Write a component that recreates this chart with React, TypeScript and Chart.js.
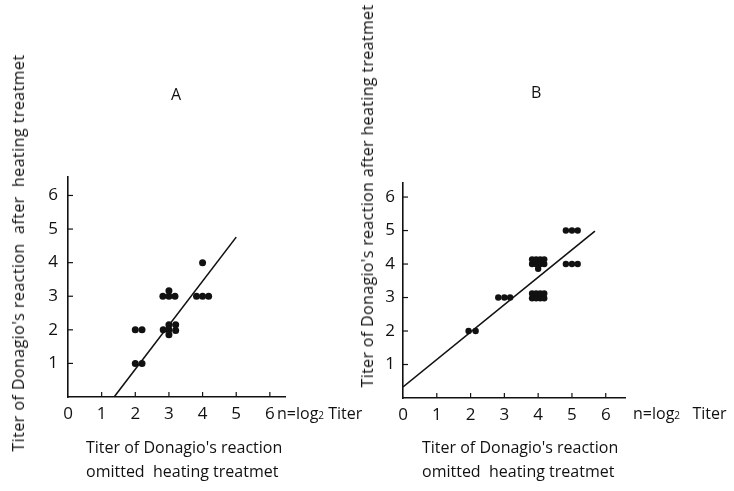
import React, { useEffect, useRef } from "react";
import { Chart, registerables } from "chart.js";

Chart.register(...registerables);

// ---------- data ----------
const xTickValues = [0, 1, 2, 3, 4, 5, 6];
const yTickValues = [0, 1, 2, 3, 4, 5, 6];

// Panel A: titre omitted heating (x) vs after heating (y)
const pointsAX = [2.0, 2.2, 2.0, 2.2, 2.83, 3.0, 3.2, 3.0, 3.2, 3.0, 2.82, 3.0, 3.18, 3.0, 3.82, 4.0, 4.18, 4.0];
const pointsAY = [1, 1, 2, 2, 2.0, 2.0, 1.98, 2.15, 2.15, 1.85, 3, 3, 3, 3.16, 3, 3, 3, 4.0];
const lineAX = [1.37, 5.0];
const lineAY = [0, 4.76];

// Panel B
const pointsBX = [
  1.94, 2.15,
  2.82, 3.0, 3.17,
  3.82, 3.94, 4.06, 4.18, 3.82, 3.94, 4.06, 4.18,
  3.82, 3.94, 4.06, 4.18, 3.82, 3.94, 4.06, 4.18, 4.0,
  4.82, 5.0, 5.17,
  4.82, 5.0, 5.17,
];
const pointsBY = [
  2, 2,
  3, 3, 3,
  2.98, 2.98, 2.98, 2.98, 3.12, 3.12, 3.12, 3.12,
  4.0, 4.0, 4.0, 4.0, 4.14, 4.14, 4.14, 4.14, 3.86,
  5, 5, 5,
  4, 4, 4,
];
const lineBX = [0, 5.68];
const lineBY = [0.33, 4.98];

const FONT = "'Open Sans', 'DejaVu Sans', sans-serif";
const INK = "#111111";

const zip = (xs: number[], ys: number[]) => xs.map((x, i) => ({ x, y: ys[i] }));

const inwardTicks = {
  id: "inwardTicks",
  afterDatasetsDraw(chart: any) {
    const { ctx, scales } = chart;
    const x = scales.x;
    const y = scales.y;
    ctx.save();
    ctx.strokeStyle = INK;
    ctx.lineWidth = 1.2;
    x.ticks.forEach((t: any) => {
      if (t.value === 0) return;
      const px = x.getPixelForValue(t.value);
      ctx.beginPath();
      ctx.moveTo(px, y.bottom);
      ctx.lineTo(px, y.bottom - 5);
      ctx.stroke();
    });
    y.ticks.forEach((t: any) => {
      if (t.value === 0) return;
      const py = y.getPixelForValue(t.value);
      ctx.beginPath();
      ctx.moveTo(x.left, py);
      ctx.lineTo(x.left + 5, py);
      ctx.stroke();
    });
    ctx.restore();
  },
};

type PanelCfg = {
  px: number[];
  py: number[];
  lx: number[];
  ly: number[];
  xMax: number;
  yMax: number;
  padding: { left: number; right: number; top: number; bottom: number };
  yLabelPad: number;
  radius: number;
};

function makeChart(canvas: HTMLCanvasElement, cfg: PanelCfg) {
  return new Chart(canvas, {
    type: "scatter",
    data: {
      datasets: [
        {
          type: "line",
          data: zip(cfg.lx, cfg.ly),
          borderColor: INK,
          borderWidth: 1.6,
          pointRadius: 0,
          fill: false,
          order: 2,
        } as any,
        {
          data: zip(cfg.px, cfg.py),
          backgroundColor: INK,
          borderColor: INK,
          borderWidth: 0,
          pointRadius: cfg.radius,
          order: 1,
        },
      ],
    },
    options: {
      responsive: false,
      animation: false,
      layout: { padding: cfg.padding },
      plugins: { legend: { display: false }, tooltip: { enabled: false } },
      elements: { point: { hoverRadius: cfg.radius } },
      scales: {
        x: {
          type: "linear",
          min: 0,
          max: cfg.xMax,
          afterBuildTicks: (s: any) => {
            s.ticks = xTickValues.map((v) => ({ value: v }));
          },
          afterFit: (s: any) => {
            s.height = 25;
          },
          grid: { display: false, drawTicks: false },
          border: { display: true, color: INK, width: 1.6 },
          ticks: {
            padding: 7,
            color: INK,
            font: { family: FONT, size: 17 },
            maxRotation: 0,
            autoSkip: false,
          },
        },
        y: {
          type: "linear",
          min: 0,
          max: cfg.yMax,
          afterBuildTicks: (s: any) => {
            s.ticks = yTickValues.map((v) => ({ value: v }));
          },
          afterFit: (s: any) => {
            s.width = 30;
          },
          grid: { display: false, drawTicks: false },
          border: { display: true, color: INK, width: 1.6 },
          ticks: {
            padding: cfg.yLabelPad,
            color: INK,
            font: { family: FONT, size: 17 },
            autoSkip: false,
            callback: (v: any) => (v === 0 ? "" : String(v)),
          },
        },
      },
    },
    plugins: [inwardTicks],
  });
}

const textBase: React.CSSProperties = {
  position: "absolute",
  fontFamily: FONT,
  color: INK,
  whiteSpace: "pre",
  lineHeight: 1,
};

export default function App() {
  const refA = useRef<HTMLCanvasElement>(null);
  const refB = useRef<HTMLCanvasElement>(null);

  useEffect(() => {
    const a = makeChart(refA.current!, {
      px: pointsAX,
      py: pointsAY,
      lx: lineAX,
      ly: lineAY,
      xMax: 6.45,
      yMax: 6.55,
      padding: { left: 38, right: 82, top: 177, bottom: 69 },
      yLabelPad: 10,
      radius: 3.5,
    });
    const b = makeChart(refB.current!, {
      px: pointsBX,
      py: pointsBY,
      lx: lineBX,
      ly: lineBY,
      xMax: 6.57,
      yMax: 6.42,
      padding: { left: 6, right: 109, top: 183, bottom: 68 },
      yLabelPad: 8,
      radius: 3.2,
    });
    return () => {
      a.destroy();
      b.destroy();
    };
  }, []);

  return (
    <div
      style={{
        position: "absolute",
        left: 0,
        top: 0,
        width: 734,
        height: 491,
        background: "#ffffff",
        overflow: "hidden",
      }}
    >
      <canvas ref={refA} width={367} height={491} style={{ position: "absolute", left: 0, top: 0 }} />
      <canvas ref={refB} width={367} height={491} style={{ position: "absolute", left: 367, top: 0 }} />

      {/* panel labels */}
      <div style={{ ...textBase, left: 171, top: 86, fontSize: 16 }}>A</div>
      <div style={{ ...textBase, left: 531, top: 84, fontSize: 16 }}>B</div>

      {/* y-axis titles */}
      <div
        style={{
          ...textBase,
          left: 18,
          top: 253,
          fontSize: 16,
          fontWeight: 500,
          transform: "translate(-50%, -50%) rotate(-90deg)",
          letterSpacing: 0.45,
        }}
      >
        {"Titer of Donagio's reaction  after  heating treatmet"}
      </div>
      <div
        style={{
          ...textBase,
          left: 367,
          top: 196,
          fontSize: 16,
          fontWeight: 500,
          transform: "translate(-50%, -50%) rotate(-90deg)",
          letterSpacing: 0.35,
        }}
      >
        {"Titer of Donagio's reaction after heating treatmet"}
      </div>

      {/* n = log2 Titer */}
      <div style={{ ...textBase, left: 277, top: 405, fontSize: 16 }}>
        n=log<span style={{ fontSize: 10 }}>2</span> Titer
      </div>
      <div style={{ ...textBase, left: 633, top: 405, fontSize: 16 }}>
        n=log<span style={{ fontSize: 10 }}>2</span>   Titer
      </div>

      {/* x-axis titles */}
      <div style={{ ...textBase, left: 86, top: 439, fontSize: 16 }}>{"Titer of Donagio's reaction"}</div>
      <div style={{ ...textBase, left: 86, top: 463, fontSize: 16 }}>{"omitted  heating treatmet"}</div>
      <div style={{ ...textBase, left: 422, top: 439, fontSize: 16 }}>{"Titer of Donagio's reaction"}</div>
      <div style={{ ...textBase, left: 422, top: 463, fontSize: 16 }}>{"omitted  heating treatmet"}</div>
    </div>
  );
}
